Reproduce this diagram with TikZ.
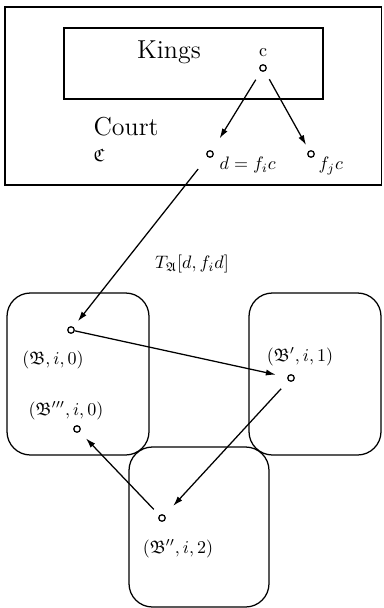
\documentclass[tikz,border=0pt]{standalone}
\usepackage{amssymb}
\usetikzlibrary{arrows.meta}
\begin{document}
\begin{tikzpicture}[x=0.555pt,y=-0.555pt,line width=0.7pt,
  dot/.style={circle,draw,line width=0.7pt,inner sep=0pt,minimum size=3.6pt},
  arr/.style={-{Latex[length=5.5pt,width=3.4pt]},line width=0.7pt},
  roundbox/.style={draw,rounded corners=13pt,line width=0.7pt},
  lbl/.style={inner sep=0pt}]
\useasboundingbox (0,0) rectangle (383,608);
% Court and Kings
\draw (5,7) rectangle (381.5,185);
\draw (64,28) rectangle (323,99);
\node[lbl,anchor=base,font=\Large] (kings) at (169,59) {Kings};
\node[lbl,anchor=west,font=\Large] (court) at (93,127) {Court};
\node[lbl,anchor=west] (frC) at (93,155) {$\mathfrak{C}$};
% points
\node[dot] (c) at (263,68) {};
\node[lbl] (clab) at (263,53) {c};
\node[dot] (d) at (210,154) {};
\node[lbl,anchor=west] (dlab) at (219,165) {$d = f_i c$};
\node[dot] (fj) at (311,154) {};
\node[lbl,anchor=west] (fjlab) at (318,166) {$f_j c$};
% rounded boxes
\draw[roundbox] (7,293) rectangle (149,455);
\draw[roundbox] (249,293) rectangle (381,455);
\draw[roundbox] (129,447) rectangle (269,607);
\node[dot] (B) at (71,330) {};
\node[lbl] (Blab) at (53,360) {$(\mathfrak{B},i,0)$};
\node[dot] (B1) at (291,378) {};
\node[lbl] (B1lab) at (300,357) {$(\mathfrak{B}',i,1)$};
\node[dot] (B2) at (162,518) {};
\node[lbl] (B2lab) at (178,549) {$(\mathfrak{B}'',i,2)$};
\node[dot] (B3) at (77,429) {};
\node[lbl] (B3lab) at (66,411) {$(\mathfrak{B}''',i,0)$};
\node[lbl] (Tlab) at (192,264) {$T_{\mathfrak{A}}[d,f_i d]$};
% arrows
\draw[arr,shorten <=5.5pt,shorten >=8pt] (c) -- (d);
\draw[arr,shorten <=5pt,shorten >=3.5pt] (c) -- (fj);
\draw[arr,shorten <=8.5pt,shorten >=4pt] (d) -- (B);
\draw[arr,shorten <=0pt,shorten >=6.5pt] (B) -- (B1);
\draw[arr,shorten <=6pt,shorten >=7pt] (B1) -- (B2);
\draw[arr,shorten <=4.5pt,shorten >=5pt] (B2) -- (B3);
\end{tikzpicture}
\end{document}
